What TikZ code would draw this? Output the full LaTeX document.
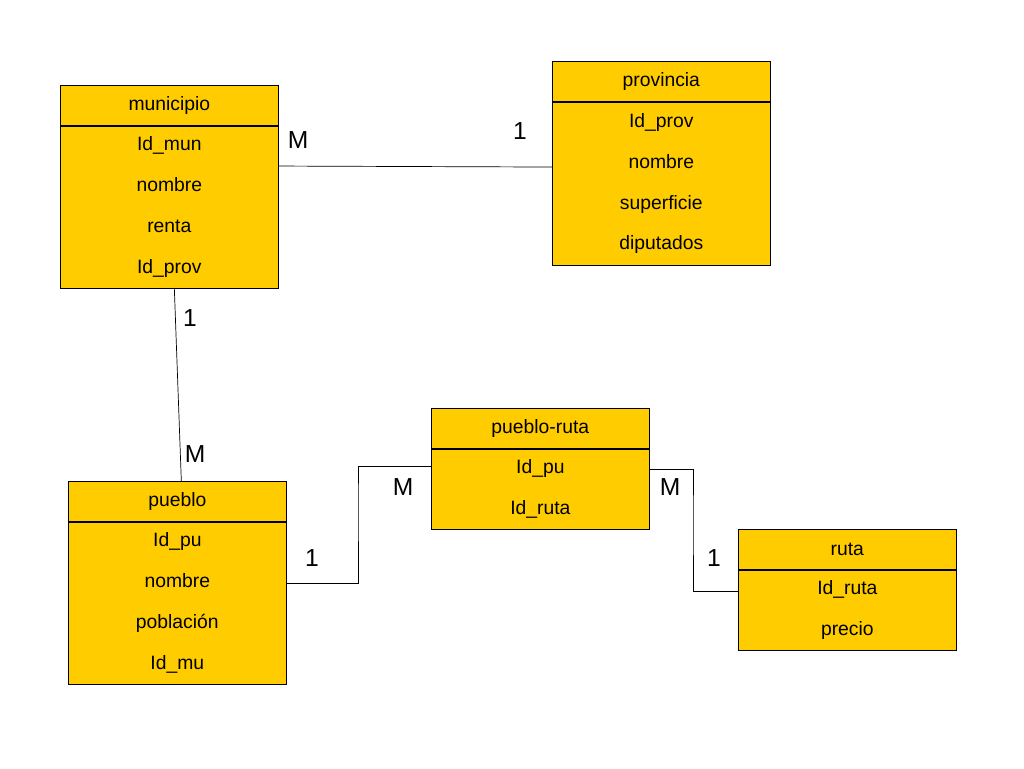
\documentclass[tikz,border=0pt]{standalone}
\usepackage{fontspec}
\setmainfont{Liberation Sans}
\usetikzlibrary{positioning}
\definecolor{tabfill}{RGB}{255,204,0}
\tikzset{
  cabeza/.style={draw, fill=tabfill, minimum width=4.36cm, minimum height=0.8cm, inner sep=0pt, anchor=north west},
  cuerpo/.style={draw, fill=tabfill, minimum width=4.36cm, inner sep=0pt, align=center, anchor=north west,
    font=\fontsize{11}{23.3}\selectfont},
  card/.style={font=\fontsize{14}{16}\selectfont},
}
\begin{document}
\begin{tikzpicture}[x=0.02cm,y=-0.02cm,font=\fontsize{11}{13}\selectfont]
\useasboundingbox (0,0) rectangle (1024,768);
% tablas
\node[cabeza] (munh) at (60,85) {municipio};
\node[cuerpo, minimum height=3.24cm] (munb) at (munh.south west) {Id\_mun\\nombre\\renta\\Id\_prov};
\node[cabeza] (provh) at (552,61) {provincia};
\node[cuerpo, minimum height=3.26cm] (provb) at (provh.south west) {Id\_prov\\nombre\\superficie\\diputados};
\node[cabeza] (pueh) at (68,481) {pueblo};
\node[cuerpo, minimum height=3.24cm] (pueb) at (pueh.south west) {Id\_pu\\nombre\\población\\Id\_mu};
\node[cabeza] (prh) at (431,408) {pueblo-ruta};
\node[cuerpo, minimum height=1.6cm] (prb) at (prh.south west) {Id\_pu\\Id\_ruta};
\node[cabeza] (rutah) at (738,529) {ruta};
\node[cuerpo, minimum height=1.6cm] (rutab) at (rutah.south west) {Id\_ruta\\precio};
% relaciones
\draw ([yshift=0.82cm]munb.east) -- ([yshift=0.33cm]provb.west);
\draw ([xshift=0.1cm]munb.south) -- ([xshift=0.08cm]pueh.north);
\draw ([yshift=0.4cm]pueb.east) -| (358,500) |- ([yshift=0.46cm]prb.west);
\draw ([yshift=0.4cm]prb.east) -| (693,520) |- ([yshift=0.38cm]rutab.west);
% cardinalidades
\node[card] (c1) at (298,140) {M};
\node[card] (c2) at (520,131) {1};
\node[card] (c3) at (190,318) {1};
\node[card] (c4) at (195,454) {M};
\node[card] (c5) at (312,558) {1};
\node[card] (c6) at (403,487) {M};
\node[card] (c7) at (670,487) {M};
\node[card] (c8) at (714,558) {1};
\end{tikzpicture}
\end{document}
